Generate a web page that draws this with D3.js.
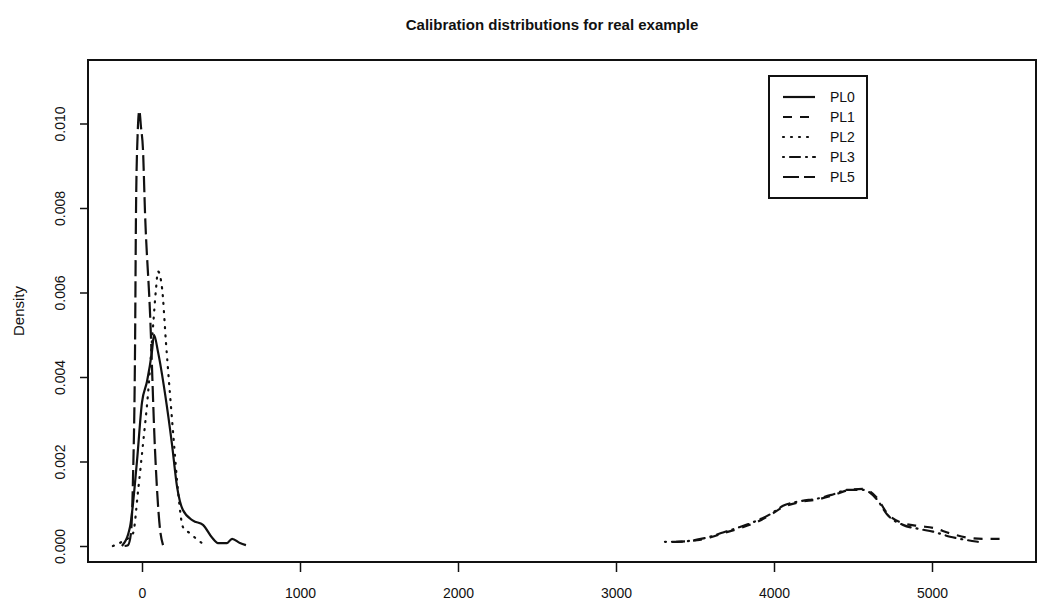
<!DOCTYPE html>
<html>
<head>
<meta charset="utf-8">
<script src="https://cdn.jsdelivr.net/npm/d3@7"></script>
<style>
    body { margin: 0; background: #fff; }
    text { font-family: "Liberation Sans", Arial, sans-serif; fill: #111; }
</style>
</head>
<body>
<div id="chart"></div>
<script>
// ----------------------------------------------------------------------------
// Data (density estimates per calibration level)
// ----------------------------------------------------------------------------
const seriesNames = ['PL0', 'PL1', 'PL2', 'PL3', 'PL5'];

const pl0X = [-127, -76, -32, 0, 32, 63, 76, 101, 146, 190, 222, 259, 323, 386, 443, 481, 538, 570, 620, 658];
const pl0Y = [0, 0.00045, 0.002, 0.0034, 0.0039, 0.0046, 0.005, 0.0046, 0.0036, 0.0024, 0.0014, 0.00085, 0.0006, 0.0005, 0.0002, 0.00007, 0.00007, 0.00017, 0.00007, 0.00002];

const pl1X = [3380, 3513, 3595, 3677, 3785, 3892, 3975, 4057, 4165, 4272, 4373, 4468, 4563, 4652, 4715, 4816, 4924, 5006, 5114, 5222, 5323, 5449];
const pl1Y = [0.0001, 0.00014, 0.0002, 0.0003, 0.00042, 0.00057, 0.00073, 0.00092, 0.00104, 0.0011, 0.0012, 0.00132, 0.00135, 0.00114, 0.00078, 0.00054, 0.00047, 0.00043, 0.0003, 0.0002, 0.00017, 0.00017];

const pl2X = [-184, -127, -57, -25, 6, 38, 70, 89, 101, 127, 152, 177, 203, 228, 259, 304, 354, 399];
const pl2Y = [0, 0.0001, 0.0003, 0.0013, 0.0024, 0.0036, 0.0052, 0.0061, 0.0065, 0.0061, 0.0048, 0.0036, 0.0024, 0.0013, 0.00045, 0.0003, 0.00014, 0.00002];

const pl3X = [3310, 3386, 3513, 3595, 3677, 3785, 3892, 3975, 4057, 4165, 4272, 4373, 4468, 4563, 4652, 4715, 4816, 4924, 5006, 5114, 5222, 5290];
const pl3Y = [0.0001, 0.0001, 0.00015, 0.00022, 0.00032, 0.00045, 0.0006, 0.00075, 0.00095, 0.00106, 0.00112, 0.00122, 0.00133, 0.00133, 0.0011, 0.00075, 0.0005, 0.0004, 0.00034, 0.00022, 0.00014, 0.0001];

const pl5X = [-110, -89, -70, -57, -44, -38, -28, -17, -6, 6, 19, 51, 82, 114, 133];
const pl5Y = [0, 0.00002, 0.0003, 0.0016, 0.0047, 0.0079, 0.0097, 0.0103, 0.0099, 0.0094, 0.0079, 0.0055, 0.0023, 0.0004, 0.00002];

const xTicks = [0, 1000, 2000, 3000, 4000, 5000];
const yTicks = [0, 0.002, 0.004, 0.006, 0.008, 0.010];

function renderDensityChart(containerId) {
    // ============================================================================
    // SETUP
    // ============================================================================
    const width = 1039;
    const height = 606;
    const box = { left: 88, right: 1036, top: 60, bottom: 562 };

    const svg = d3.select(`#${containerId}`)
        .append('svg')
        .attr('width', width)
        .attr('height', height);

    // scales - pinned to where the ticks sit in the scan
    const x = d3.scaleLinear().domain([0, 5000]).range([142, 932]);
    const y = d3.scaleLinear().domain([0, 0.01]).range([546, 123.5]);

    // line style per series (R lty 1..5 look)
    const dash = d3.scaleOrdinal()
        .domain(seriesNames)
        .range(['none', '9,8', '1,7', '1,6,10,6', '16,5']);

    const series = [
        { name: 'PL0', xs: pl0X, ys: pl0Y },
        { name: 'PL1', xs: pl1X, ys: pl1Y },
        { name: 'PL2', xs: pl2X, ys: pl2Y },
        { name: 'PL3', xs: pl3X, ys: pl3Y },
        { name: 'PL5', xs: pl5X, ys: pl5Y }
    ];

    // ============================================================================
    // TITLE + BOX
    // ============================================================================
    svg.append('text')
        .attr('x', 552)
        .attr('y', 30)
        .attr('text-anchor', 'middle')
        .style('font-size', '15px')
        .style('font-weight', 'bold')
        .text('Calibration distributions for real example');

    svg.append('rect')
        .attr('x', box.left)
        .attr('y', box.top)
        .attr('width', box.right - box.left)
        .attr('height', box.bottom - box.top)
        .attr('fill', 'none')
        .attr('stroke', '#111')
        .attr('stroke-width', 2);

    // ============================================================================
    // AXES
    // ============================================================================
    const xAxis = svg.append('g')
        .attr('transform', `translate(0,${box.bottom})`)
        .call(d3.axisBottom(x).tickValues(xTicks).tickSize(10).tickPadding(16).tickFormat(d3.format('d')));
    xAxis.select('.domain').remove();
    xAxis.selectAll('line').attr('stroke', '#111').attr('stroke-width', 1.5);
    xAxis.selectAll('text').style('font-size', '14px').attr('fill', '#111');

    const yAxis = svg.append('g')
        .attr('transform', `translate(${box.left},0)`)
        .call(d3.axisLeft(y).tickValues(yTicks).tickSize(8).tickFormat(d3.format('.3f')));
    yAxis.select('.domain').remove();
    yAxis.selectAll('line').attr('stroke', '#111').attr('stroke-width', 1.5);
    // rotated tick labels, reading bottom to top
    yAxis.selectAll('text')
        .attr('x', null)
        .attr('dy', null)
        .attr('text-anchor', 'middle')
        .attr('transform', d => `translate(${65 - box.left},0) rotate(-90)`)
        .style('font-size', '14px')
        .attr('fill', '#111');

    svg.append('text')
        .attr('transform', `translate(24,${(box.top + box.bottom) / 2}) rotate(-90)`)
        .attr('text-anchor', 'middle')
        .style('font-size', '15px')
        .text('Density');

    // ============================================================================
    // DENSITY CURVES
    // ============================================================================
    const line = d3.line()
        .x(d => x(d[0]))
        .y(d => y(d[1]))
        .curve(d3.curveMonotoneX);

    svg.selectAll('.curve')
        .data(series)
        .enter()
        .append('path')
        .attr('class', 'curve')
        .attr('d', s => line(s.xs.map((v, i) => [v, s.ys[i]])))
        .attr('fill', 'none')
        .attr('stroke', '#111')
        .attr('stroke-width', 2.2)
        .attr('stroke-linecap', s => s.name === 'PL2' || s.name === 'PL3' ? 'round' : 'butt')
        .attr('stroke-dasharray', s => dash(s.name));

    // ============================================================================
    // LEGEND
    // ============================================================================
    const legend = svg.append('g')
        .attr('transform', 'translate(769,76)');

    legend.append('rect')
        .attr('width', 98)
        .attr('height', 122)
        .attr('fill', '#fff')
        .attr('stroke', '#111')
        .attr('stroke-width', 2);

    seriesNames.forEach((name, i) => {
        const row = legend.append('g')
            .attr('transform', `translate(0,${21 + i * 20})`);

        row.append('line')
            .attr('x1', 14)
            .attr('x2', 46)
            .attr('stroke', '#111')
            .attr('stroke-width', 2.2)
            .attr('stroke-linecap', name === 'PL2' || name === 'PL3' ? 'round' : 'butt')
            .attr('stroke-dasharray', dash(name));

        row.append('text')
            .attr('x', 61)
            .attr('y', 5)
            .style('font-size', '14px')
            .text(name);
    });
}

renderDensityChart('chart');
</script>
</body>
</html>
